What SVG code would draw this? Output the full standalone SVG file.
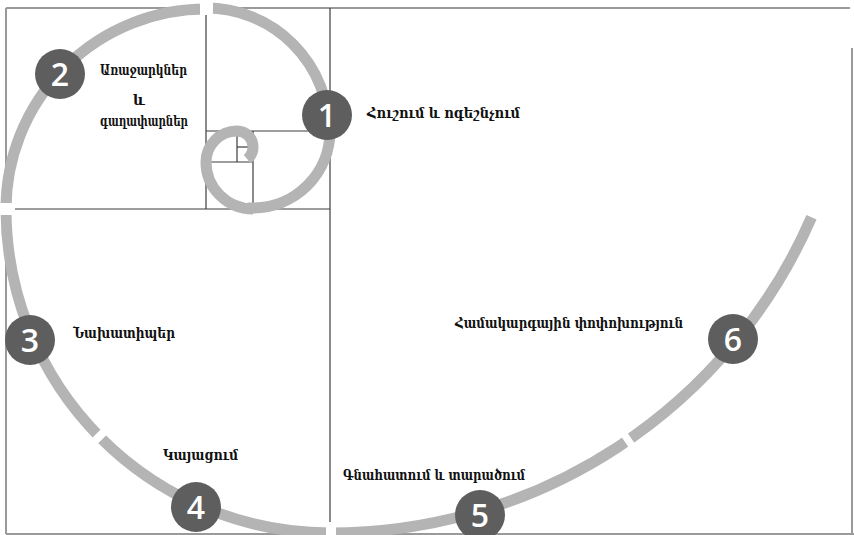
<svg xmlns="http://www.w3.org/2000/svg" width="854" height="535" viewBox="0 0 854 535">
<style>
.frame{stroke:#9a9a9a;stroke-width:2;fill:none}
.grid{stroke:#3c3c3c;stroke-width:1.2;fill:none}
.spiral{stroke:#b4b4b4;stroke-width:11;fill:none}
.gap{stroke:#fff;fill:none}
.badge{fill:#5e5e5e}
.num{font-family:"Open Sans","DejaVu Sans",sans-serif;font-size:32px;font-weight:600;fill:#fff;text-anchor:middle}
.lbl{font-family:"DejaVu Serif","DejaVu Sans",serif;font-size:14px;font-weight:bold;fill:#111}
</style>
<rect width="854" height="535" fill="#fff"/>
<g id="frame">
<line class="frame" x1="6" y1="8" x2="850" y2="8"/>
<line class="frame" x1="852" y1="48" x2="852" y2="534"/>
<line class="frame" x1="6" y1="534" x2="854" y2="534"/>
<line class="frame" x1="6" y1="8" x2="6" y2="534"/>
<line class="grid" x1="330" y1="8" x2="330" y2="534"/>
<line class="grid" x1="6" y1="209" x2="330" y2="209"/>
<line class="grid" x1="206" y1="8" x2="206" y2="209"/>
<line class="grid" x1="206" y1="131" x2="330" y2="131"/>
<line class="grid" x1="253" y1="131" x2="253" y2="209"/>
<line class="grid" x1="206" y1="162" x2="253" y2="162"/>
<line class="grid" x1="237" y1="131" x2="237" y2="162"/>
<line class="grid" x1="237" y1="147" x2="253" y2="147"/>
</g>
<g id="connectors">
<path class="spiral" d="M811.5,217.3 A525,525 0 0 1 330,533 A324,324 0 0 1 6,209 A200,200 0 0 1 206,9 L206,8 A123,123 0 0 1 329,131 L330,131 A77,77 0 0 1 253,208 L253,209"/>
<path class="spiral" stroke-width="12.5" d="M253,209 A47,47 0 0 1 206,162 A31,31 0 0 1 237,131 A16,16 0 0 1 253,147 A16,16 0 0 1 247.3,159.3"/>
<rect x="200" y="0" width="13" height="15" fill="#fff"/>
<rect x="0" y="203" width="15" height="12" fill="#fff"/>
<rect x="326" y="522" width="10" height="13" fill="#fff"/>
<path class="gap" stroke-width="16" d="M102.1,439.3 L96.5,433.7"/>
<path class="gap" stroke-width="16" d="M631.1,438.1 L625.1,442.2"/>
</g>
<g id="n1"><circle class="badge" cx="327" cy="115" r="25"/><text class="num" x="327" y="127">1</text>
<text class="lbl" x="367" y="118" textLength="153" lengthAdjust="spacingAndGlyphs">Հուշում և ոգեշնչում</text></g>
<g id="n2"><circle class="badge" cx="60" cy="74" r="25"/><text class="num" x="60" y="86">2</text>
<text class="lbl" x="100" y="75" textLength="87" lengthAdjust="spacingAndGlyphs">Առաջարկներ</text>
<text class="lbl" x="133" y="105">և</text>
<text class="lbl" x="100" y="126" textLength="88" lengthAdjust="spacingAndGlyphs">գաղափարներ</text></g>
<g id="n3"><circle class="badge" cx="30" cy="340" r="25"/><text class="num" x="30" y="352">3</text>
<text class="lbl" x="73" y="338" textLength="102" lengthAdjust="spacingAndGlyphs">Նախատիպեր</text></g>
<g id="n4"><circle class="badge" cx="196" cy="507" r="25"/><text class="num" x="196" y="519">4</text>
<text class="lbl" x="163" y="460" textLength="75" lengthAdjust="spacingAndGlyphs">Կայացում</text></g>
<g id="n5"><circle class="badge" cx="480" cy="515" r="25"/><text class="num" x="480" y="527">5</text>
<text class="lbl" x="343" y="480" textLength="182" lengthAdjust="spacingAndGlyphs">Գնահատում և տարածում</text></g>
<g id="n6"><circle class="badge" cx="733" cy="339" r="25"/><text class="num" x="733" y="351">6</text>
<text class="lbl" x="455" y="328" textLength="228" lengthAdjust="spacingAndGlyphs">Համակարգային փոփոխություն</text></g>
</svg>
